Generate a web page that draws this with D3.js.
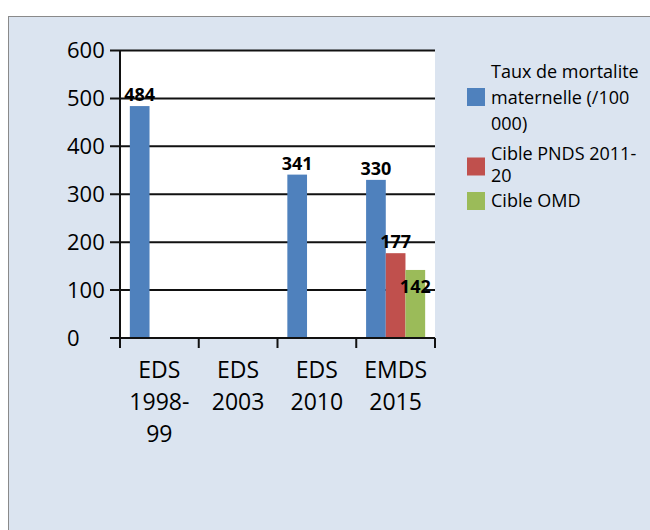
<!DOCTYPE html>
<html>
<head>
<meta charset="utf-8">
<script src="https://cdnjs.cloudflare.com/ajax/libs/d3/7.8.5/d3.min.js"></script>
<style>
  body { margin: 0; background: #fff; }
  svg text { font-family: "Open Sans", sans-serif; fill: #000; }
</style>
</head>
<body>
<div class="chart"></div>
<script>
// data
var categories = [["EDS", "1998-", "99"], ["EDS", "2003"], ["EDS", "2010"], ["EMDS", "2015"]];
var seriesNames = ["Taux de mortalite maternelle (/100 000)", "Cible PNDS 2011-20", "Cible OMD"];
var legendLines = [["Taux de mortalite", "maternelle (/100", "000)"], ["Cible PNDS 2011-", "20"], ["Cible OMD"]];
var mortalite = [484, null, 341, 330];
var ciblePnds = [null, null, null, 177];
var cibleOmd = [null, null, null, 142];
var yTicks = [0, 100, 200, 300, 400, 500, 600];

var colors = ["#4f81bd", "#c0504d", "#9bbb59"];
var seriesValues = [mortalite, ciblePnds, cibleOmd];

var svgWidth = 650;
var svgHeight = 530;

var svg = d3.select(".chart")
  .append("svg")
  .attr("width", svgWidth)
  .attr("height", svgHeight);

// outer panel
svg.append("rect")
  .attr("x", 8.5).attr("y", 16.5)
  .attr("width", 660).attr("height", 540)
  .attr("fill", "#dbe4f0")
  .attr("stroke", "#8a8a8a")
  .attr("stroke-width", 1);

var plot = {left: 120, right: 435, top: 50.5, bottom: 338};

svg.append("rect")
  .attr("x", plot.left).attr("y", plot.top)
  .attr("width", plot.right - plot.left).attr("height", plot.bottom - plot.top)
  .attr("fill", "#fff");

var x0 = d3.scaleBand()
  .domain(d3.range(categories.length))
  .range([plot.left, plot.right])
  .paddingInner(0).paddingOuter(0);

var x1 = d3.scaleBand()
  .domain(d3.range(seriesNames.length))
  .range([0, x0.bandwidth()])
  .paddingInner(0).paddingOuter(0.5);

var y = d3.scaleLinear().domain([0, 600]).range([plot.bottom, plot.top]);

// gridlines
svg.append("g").selectAll("line")
  .data(yTicks.filter(function(d) { return d > 0; }))
  .enter().append("line")
  .attr("x1", plot.left - 10).attr("x2", plot.right)
  .attr("y1", function(d) { return y(d); })
  .attr("y2", function(d) { return y(d); })
  .attr("stroke", "#111").attr("stroke-width", 2);

// bars
var bars = [];
seriesValues.forEach(function(vals, s) {
  vals.forEach(function(v, c) {
    if (v !== null) bars.push({s: s, c: c, v: v});
  });
});

svg.append("g").selectAll("rect")
  .data(bars)
  .enter().append("rect")
  .attr("x", function(d) { return x0(d.c) + x1(d.s); })
  .attr("y", function(d) { return y(d.v); })
  .attr("width", x1.bandwidth())
  .attr("height", function(d) { return y(0) - y(d.v); })
  .attr("fill", function(d) { return colors[d.s]; });

// axes
svg.append("line")
  .attr("x1", plot.left - 10).attr("x2", plot.right)
  .attr("y1", plot.bottom).attr("y2", plot.bottom)
  .attr("stroke", "#111").attr("stroke-width", 2);

svg.append("line")
  .attr("x1", plot.left).attr("x2", plot.left)
  .attr("y1", plot.top).attr("y2", plot.bottom + 10)
  .attr("stroke", "#111").attr("stroke-width", 2);

svg.append("g").selectAll("line")
  .data(d3.range(categories.length + 1))
  .enter().append("line")
  .attr("x1", function(d) { return plot.left + d * x0.step(); })
  .attr("x2", function(d) { return plot.left + d * x0.step(); })
  .attr("y1", plot.bottom).attr("y2", plot.bottom + 10)
  .attr("stroke", "#111").attr("stroke-width", 2);

// y labels, left aligned like the original
svg.append("g").selectAll("text")
  .data(yTicks)
  .enter().append("text")
  .attr("x", 67)
  .attr("y", function(d) { return y(d) + 7.5; })
  .style("font-size", "22px")
  .text(function(d) { return d; });

// category labels
var cat = svg.append("g").selectAll("text")
  .data(categories)
  .enter().append("text")
  .attr("text-anchor", "middle")
  .style("font-size", "23px");

cat.selectAll("tspan")
  .data(function(d, i) { return d.map(function(t) { return {t: t, i: i}; }); })
  .enter().append("tspan")
  .attr("x", function(d) { return x0(d.i) + x0.bandwidth() / 2; })
  .attr("y", function(d, j) { return 378 + j * 32; })
  .text(function(d) { return d.t; });

// data labels (the OMD label is pushed down by Excel to avoid overlap)
svg.append("g").selectAll("text")
  .data(bars)
  .enter().append("text")
  .attr("x", function(d) { return x0(d.c) + x1(d.s) + x1.bandwidth() / 2; })
  .attr("y", function(d) { return y(d.v) - 5 + (d.s === 2 ? 28 : 0); })
  .attr("text-anchor", "middle")
  .style("font-size", "18px")
  .style("font-weight", "bold")
  .text(function(d) { return d.v; });

// legend
var legendTop = [78, 160, 207];
var legend = svg.append("g");
legendLines.forEach(function(lines, i) {
  var mid = legendTop[i] + (lines.length - 1) * 25 / 2 - 6;
  legend.append("rect")
    .attr("x", 467).attr("y", mid - 9)
    .attr("width", 18).attr("height", 18)
    .attr("fill", colors[i]);
  lines.forEach(function(t, j) {
    legend.append("text")
      .attr("x", 491)
      .attr("y", legendTop[i] + j * (i === 0 ? 26 : 22))
      .style("font-size", "18px")
      .text(t);
  });
});
</script>
</body>
</html>
